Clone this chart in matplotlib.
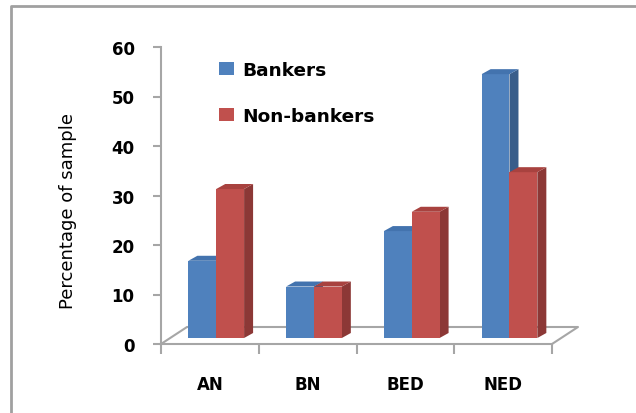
import matplotlib.pyplot as plt
from matplotlib.patches import Rectangle, Polygon
from matplotlib.lines import Line2D

# Data
categories = ["AN", "BN", "BED", "NED"]
bankers = [15.6, 10.4, 21.6, 53.3]
non_bankers = [30.1, 10.4, 25.5, 33.5]

blue = {"front": "#4f81bd", "side": "#385d8a", "top": "#4373ae"}
red = {"front": "#c0504d", "side": "#8c3836", "top": "#a8423f"}

plt.rcParams["font.family"] = "DejaVu Sans"
plt.rcParams["font.weight"] = "bold"

fig = plt.figure(figsize=(6.36, 4.14), dpi=100)
ax = fig.add_axes([161 / 636, 69 / 414, 391 / 636, 297 / 414])
ax.set_xlim(0, 4)
ax.set_ylim(0, 60)

# pseudo-3D geometry in data units
px_x = 391 / 4
px_y = 297 / 60
floor_dx, floor_dy = 26 / px_x, 17 / px_y
bar_dx, bar_dy = 9 / px_x, 5 / px_y
base = 6 / px_y
offset = 0.28
width = 0.285

# floor
grey = "#a6a6a6"
ax.plot([0, floor_dx, 4 + floor_dx, 4], [0, floor_dy, floor_dy, 0],
        color=grey, lw=1.5, clip_on=False, zorder=1)


def bar3d(x0, h, c):
    y0, y1 = base, base + h
    side = [(x0 + width, y0), (x0 + width + bar_dx, y0 + bar_dy),
            (x0 + width + bar_dx, y1 + bar_dy), (x0 + width, y1)]
    top = [(x0, y1), (x0 + width, y1), (x0 + width + bar_dx, y1 + bar_dy),
           (x0 + bar_dx, y1 + bar_dy)]
    ax.add_patch(Polygon(side, closed=True, fc=c["side"], ec="none", zorder=2, clip_on=False))
    ax.add_patch(Rectangle((x0, y0), width, h, fc=c["front"], ec="none", zorder=2, clip_on=False))
    ax.add_patch(Polygon(top, closed=True, fc=c["top"], ec="none", zorder=2, clip_on=False))


for i in range(len(categories)):
    bar3d(i + offset, bankers[i], blue)
    bar3d(i + offset + width, non_bankers[i], red)

# axes
for s in ["top", "right"]:
    ax.spines[s].set_visible(False)
for s in ["left", "bottom"]:
    ax.spines[s].set_color(grey)
    ax.spines[s].set_linewidth(1.5)

ax.set_yticks(range(0, 61, 10))
ax.tick_params(axis="y", direction="out", length=6, width=1.5, color=grey,
               labelsize=12, pad=13)
ax.set_xticks(range(0, 5))
ax.set_xticklabels([])
ax.set_xticks([i + 0.5 for i in range(4)], minor=True)
ax.set_xticklabels(categories, minor=True)
ax.tick_params(axis="x", which="major", direction="out", length=7, width=1.5, color=grey)
ax.tick_params(axis="x", which="minor", length=0, labelsize=12, pad=22)

ax.set_ylabel("Percentage of sample", fontsize=13, fontweight="normal")
ax.yaxis.set_label_coords(-0.215, 0.45)

# legend
handles = [Rectangle((0, 0), 1, 1, fc=blue["front"]), Rectangle((0, 0), 1, 1, fc=red["front"])]
ax.legend(handles, ["Bankers", "Non-bankers"], loc="upper left",
          bbox_to_anchor=(219 / 636, 1 - 62 / 414), bbox_transform=fig.transFigure,
          frameon=False, fontsize=13.3, handlelength=0.8, handleheight=0.75,
          handletextpad=0.45, labelspacing=1.5, borderpad=0, borderaxespad=0)

# chart frame
fig.add_artist(Line2D([10.5 / 636, 10.5 / 636, 1], [0, 1 - 7 / 414, 1 - 7 / 414],
                      transform=fig.transFigure, color="#a0a0a0", lw=2))

fig.savefig("out.png", dpi=100)
